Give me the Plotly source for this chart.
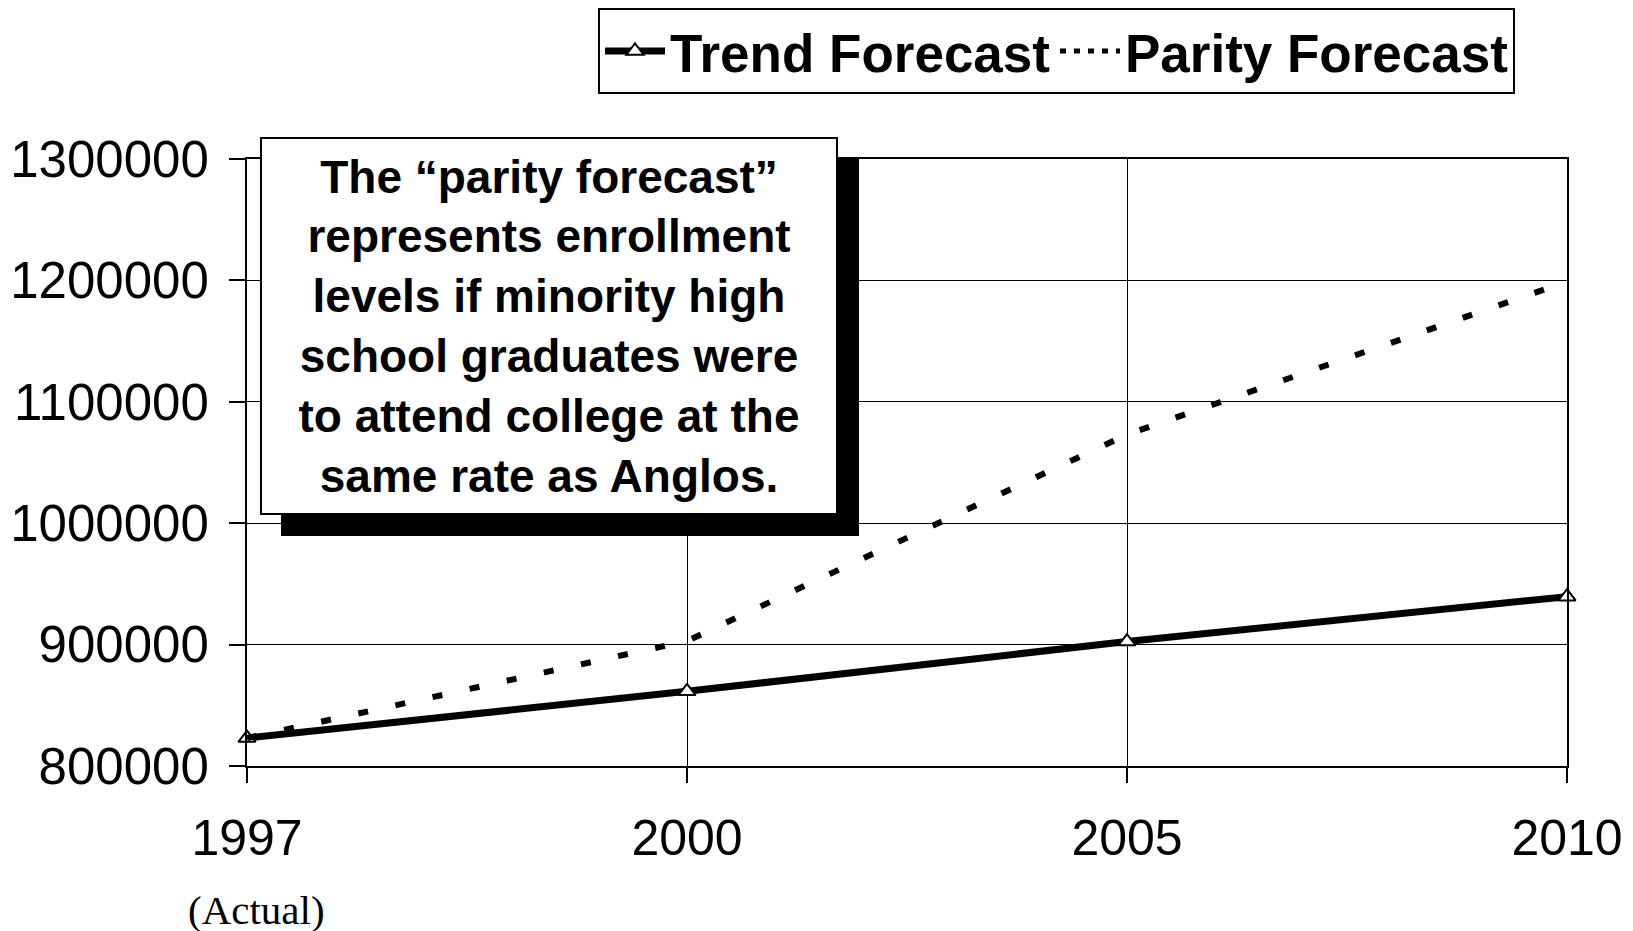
import plotly.graph_objects as go

# values
years = ["1997", "2000", "2005", "2010"]
trend_forecast = [823000, 861500, 902500, 939500]
parity_forecast = [823000, 903000, 1073000, 1199000]
y_ticks = [800000, 900000, 1000000, 1100000, 1200000, 1300000]

note_text = ("The \u201cparity forecast\u201d<br>represents enrollment<br>levels if minority high<br>"
             "school graduates were<br>to attend college at the<br>same rate as Anglos.")

# the page body adds an 8px offset, so the figure is a bit smaller than the window
W, H = 1625, 923
L, R, T, B = 239, 66, 151, 165
pw, ph = W - L - R, H - T - B

def px_x(x):
    return (x - L) / pw

def px_y(y):
    return (H - B - y) / ph

fig = go.Figure()

fig.add_trace(go.Scatter(
    x=years, y=trend_forecast, name="Trend Forecast", mode="lines+markers",
    line=dict(color="black", width=7), cliponaxis=False,
    marker=dict(symbol="triangle-up", size=15, color="white",
                line=dict(color="black", width=2)),
))
fig.add_trace(go.Scatter(
    x=years, y=parity_forecast, name="Parity Forecast", mode="lines",
    line=dict(color="black", width=6, dash="10px,28px"), showlegend=False,
))
# legend entry for the parity line, with a tighter dash so it reads in the small sample
fig.add_trace(go.Scatter(
    x=[None], y=[None], name="Parity Forecast", mode="lines",
    line=dict(color="black", width=5, dash="6px,8px"),
))

font_sans = "Arial, Liberation Sans, sans-serif"

# shadow box behind the note, then the note itself
box_cx, box_cy, box_w, box_h = 541, 318, 574, 374
for shadow in (True, False):
    fig.add_annotation(
        x=px_x(box_cx), y=px_y(box_cy), xref="paper", yref="paper",
        xanchor="center", yanchor="middle",
        xshift=21 if shadow else 0, yshift=-21 if shadow else 0,
        text=note_text, showarrow=False, align="center",
        width=box_w, height=box_h,
        font=dict(family=font_sans, size=46, color="black", weight="bold"),
        bgcolor="black" if shadow else "white",
        bordercolor="black", borderwidth=2, borderpad=0,
    )

fig.add_annotation(
    x=px_x(248), y=px_y(902), xref="paper", yref="paper",
    xanchor="center", yanchor="middle", showarrow=False,
    text="(Actual)", font=dict(family="Times New Roman, Liberation Serif, serif", size=41, color="black"),
)

fig.update_layout(
    width=W, height=H,
    margin=dict(l=L, r=R, t=T, b=B),
    plot_bgcolor="white", paper_bgcolor="white",
    font=dict(family=font_sans, color="black"),
    showlegend=True,
    legend=dict(
        orientation="h", x=px_x(1507), xanchor="right",
        yref="container", y=1, yanchor="top",
        font=dict(family=font_sans, size=53, color="black", weight="bold"),
        bordercolor="black", borderwidth=2, bgcolor="white",
        itemwidth=60, tracegroupgap=0,
    ),
    xaxis=dict(
        type="category", range=[0, 3], automargin=False,
        showgrid=True, gridcolor="black", gridwidth=1.2,
        showline=True, linecolor="black", linewidth=2, mirror=True,
        ticks="outside", ticklen=15, tickcolor="black", tickwidth=1.5,
        tickfont=dict(size=50, family=font_sans), ticklabelstandoff=12,
    ),
    yaxis=dict(
        range=[800000, 1300000], tickvals=y_ticks, tickformat="d", automargin=False,
        showgrid=True, gridcolor="black", gridwidth=1.2,
        showline=True, linecolor="black", linewidth=2, mirror=True,
        ticks="outside", ticklen=16, tickcolor="black", tickwidth=1.5,
        tickfont=dict(size=51, family=font_sans), ticklabelstandoff=10,
        zeroline=False,
    ),
)

fig.write_html("out.html")
